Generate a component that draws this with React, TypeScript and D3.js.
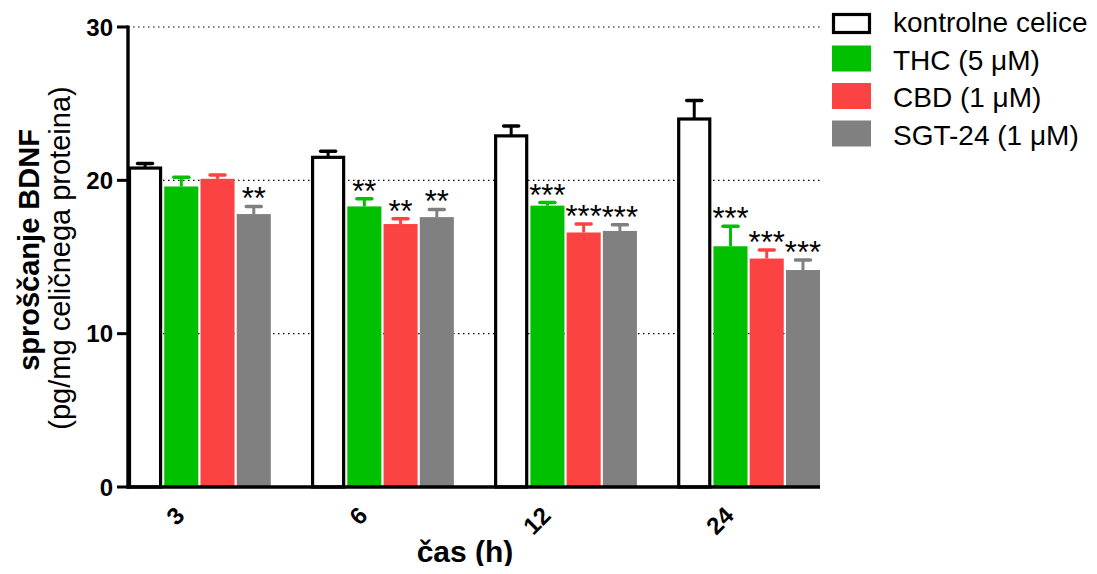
import React from "react";
import * as d3 from "d3";

const W = 1097;
const H = 574;

const categories = ["3", "6", "12", "24"];
const seriesNames = ["kontrolne celice", "THC (5 \u03bcM)", "CBD (1 \u03bcM)", "SGT-24 (1 \u03bcM)"];
const seriesColors = ["#ffffff", "#00c000", "#fb4343", "#808080"];

// mean values per time point (rows = series, columns = categories)
const kontrola = [20.8, 21.5, 22.9, 24.0];
const thc = [19.6, 18.3, 18.35, 15.7];
const cbd = [20.1, 17.15, 16.6, 14.9];
const sgt = [17.8, 17.6, 16.7, 14.15];

// upper error (SEM)
const kontrolaErr = [0.3, 0.4, 0.65, 1.2];
const thcErr = [0.6, 0.5, 0.2, 1.3];
const cbdErr = [0.25, 0.35, 0.55, 0.55];
const sgtErr = [0.5, 0.5, 0.4, 0.65];

// significance marks
const kontrolaSig = ["", "", "", ""];
const thcSig = ["", "**", "***", "***"];
const cbdSig = ["", "**", "***", "***"];
const sgtSig = ["**", "**", "***", "***"];

const yTicks = [0, 10, 20, 30];
const gridValues = [10, 20, 30];

const series = [
  { values: kontrola, err: kontrolaErr, sig: kontrolaSig },
  { values: thc, err: thcErr, sig: thcSig },
  { values: cbd, err: cbdErr, sig: cbdSig },
  { values: sgt, err: sgtErr, sig: sgtSig },
];

const FONT = "Liberation Sans, Arial, sans-serif";

export default function App() {
  const left = 128;
  const right = 820;
  const top = 27;
  const bottom = 487;

  const y = d3.scaleLinear().domain([0, 30]).range([bottom, top]);
  const x0 = d3
    .scaleBand<string>()
    .domain(categories)
    .range([left, right])
    .paddingInner(0.22)
    .paddingOuter(0.0);
  const x1 = d3
    .scaleBand<string>()
    .domain(d3.range(series.length).map(String))
    .range([0, x0.bandwidth()])
    .paddingInner(0.06);

  const capW = 18;

  return (
    <svg width={W} height={H} style={{ display: "block", margin: "-8px" }} fontFamily={FONT}>
      <rect width={W} height={H} fill="#fff" />
      {/* dotted gridlines */}
      {gridValues.map((v) => (
        <line
          key={v}
          x1={left}
          x2={right}
          y1={y(v)}
          y2={y(v)}
          stroke="#000"
          strokeWidth={1.2}
          strokeDasharray="1.5,3.5"
        />
      ))}

      {/* bars with upper error bars */}
      {series.map((s, si) =>
        categories.map((c, ci) => {
          const bx = (x0(c) as number) + (x1(String(si)) as number);
          const bw = x1.bandwidth();
          const v = s.values[ci];
          const e = s.err[ci];
          const cx = bx + bw / 2;
          const isCtrl = si === 0;
          const col = isCtrl ? "#000" : seriesColors[si];
          return (
            <g key={`${si}-${ci}`}>
              <line x1={cx} x2={cx} y1={y(v)} y2={y(v + e)} stroke={col} strokeWidth={3} />
              <line
                x1={cx - capW / 2 + 1.5}
                x2={cx + capW / 2 - 1.5}
                y1={y(v + e)}
                y2={y(v + e)}
                stroke={col}
                strokeWidth={3.5}
                strokeLinecap="round"
              />
              {isCtrl ? (
                <rect
                  x={bx + 1.5}
                  y={y(v)}
                  width={bw - 3}
                  height={y(0) - y(v)}
                  fill="#fff"
                  stroke="#000"
                  strokeWidth={3.2}
                />
              ) : (
                <rect x={bx} y={y(v)} width={bw} height={y(0) - y(v)} fill={seriesColors[si]} />
              )}
              {s.sig[ci] && (
                <text x={cx} y={y(v + e) + 3} textAnchor="middle" fontSize={31} fill="#000">
                  {s.sig[ci]}
                </text>
              )}
            </g>
          );
        })
      )}

      {/* axes */}
      <line x1={left} x2={left} y1={top - 1.5} y2={bottom + 1.5} stroke="#000" strokeWidth={3.4} />
      <line x1={left - 1.5} x2={right} y1={bottom} y2={bottom} stroke="#000" strokeWidth={3.4} />
      {yTicks.map((t) => (
        <g key={t}>
          <line x1={left - 11} x2={left} y1={y(t)} y2={y(t)} stroke="#000" strokeWidth={3} />
          <text x={left - 15} y={y(t) + 8.5} textAnchor="end" fontSize={24} fontWeight="bold">
            {t}
          </text>
        </g>
      ))}

      {/* category labels, rotated */}
      {categories.map((c) => {
        const ax = (x0(c) as number) + 58;
        return (
          <text
            key={c}
            transform={`translate(${ax},${bottom + 30}) rotate(-45)`}
            textAnchor="end"
            fontSize={24}
            fontWeight="bold"
          >
            {c}
          </text>
        );
      })}

      {/* axis titles */}
      <text x={465} y={562} textAnchor="middle" fontSize={30} fontWeight="bold">
        čas (h)
      </text>
      <text
        transform={`translate(39,${250}) rotate(-90)`}
        textAnchor="middle"
        fontSize={29}
        fontWeight="bold"
      >
        sproščanje BDNF
      </text>
      <text transform={`translate(70,${258}) rotate(-90)`} textAnchor="middle" fontSize={29}>
        (pg/mg celičnega proteina)
      </text>

      {/* legend */}
      {seriesNames.map((n, i) => {
        const ly = 21 + i * 37.5;
        return (
          <g key={n}>
            {i === 0 ? (
              <rect x={833.5} y={14.5} width={36} height={18} fill="#fff" stroke="#000" strokeWidth={3.2} />
            ) : (
              <rect x={832} y={ly - 13} width={39} height={26} fill={seriesColors[i]} />
            )}
            <text x={893} y={ly + 11} fontSize={28}>
              {n}
            </text>
          </g>
        );
      })}
    </svg>
  );
}
